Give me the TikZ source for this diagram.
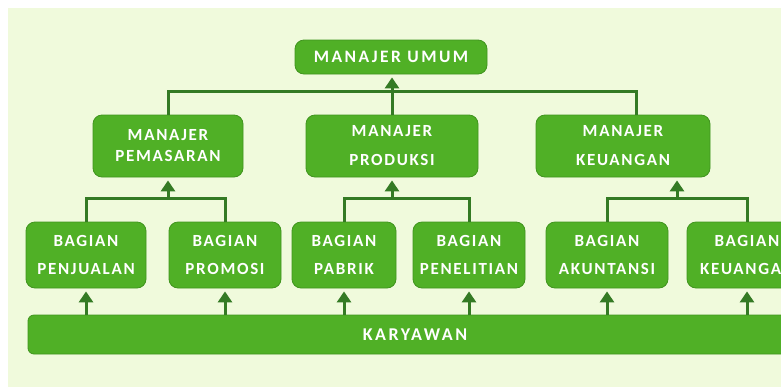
\documentclass[tikz,border=0pt]{standalone}
\usepackage{fontspec}
\usetikzlibrary{arrows.meta,calc}
\newfontfamily\boxfont{Carlito}[LetterSpace=10]
\newfontfamily\widefont{Carlito}[LetterSpace=14]
\definecolor{bgpale}{RGB}{240,250,220}
\definecolor{boxfill}{RGB}{80,176,38}
\definecolor{boxedge}{RGB}{64,148,30}
\definecolor{linegreen}{RGB}{52,122,36}
\tikzset{
  box/.style={draw=boxedge, line width=0.8pt, fill=boxfill, rounded corners=9pt,
    text=white, align=center, inner sep=0pt},
  conn/.style={draw=linegreen, line width=3pt},
  upar/.style={draw=linegreen, line width=3pt, -{Triangle[width=14pt,length=11pt]}, shorten >=3pt}
}
\begin{document}
\begin{tikzpicture}[x=1pt,y=-1pt]
\useasboundingbox (0,0) rectangle (781,389);
\clip (0,0) rectangle (781,389);
\fill[white] (0,0) rectangle (781,389);
\fill[bgpale] (8,8) rectangle (781,387);

% top
\node[box, minimum width=192pt, minimum height=34pt, font=\widefont\bfseries\fontsize{17.5}{20}\selectfont] (umum) at (391,57) {MANAJER UMUM};

% managers
\node[box, minimum width=150pt, minimum height=62pt, font=\boxfont\bfseries\fontsize{17}{21}\selectfont] (pem) at (168,146) {MANAJER\\PEMASARAN};
\node[box, minimum width=172pt, minimum height=62pt, font=\boxfont\bfseries\fontsize{17}{29}\selectfont] (prod) at (392,146) {MANAJER\\PRODUKSI};
\node[box, minimum width=174pt, minimum height=62pt, font=\boxfont\bfseries\fontsize{17}{29}\selectfont] (keu) at (623,146) {MANAJER\\KEUANGAN};

% departments
\tikzset{dept/.style={box, minimum height=66pt, font=\boxfont\bfseries\fontsize{17}{28}\selectfont}}
\node[dept, minimum width=120pt] (pj) at (86,255) {BAGIAN\\PENJUALAN};
\node[dept, minimum width=112pt] (pr) at (225,255) {BAGIAN\\PROMOSI};
\node[dept, minimum width=104pt] (pb) at (344,255) {BAGIAN\\PABRIK};
\node[dept, minimum width=112pt] (pn) at (469,255) {BAGIAN\\PENELITIAN};
\node[dept, minimum width=122pt] (ak) at (607,255) {BAGIAN\\AKUNTANSI};
\node[dept, minimum width=120pt] (kg) at (747,255) {BAGIAN\\KEUANGAN};

% employees
\node[box, rounded corners=6pt, minimum width=774pt, minimum height=39pt, font=\widefont\bfseries\fontsize{18}{20}\selectfont] (kar) at (415,334.5) {KARYAWAN};

% bus coordinates
\coordinate (b1) at (0,91);
\coordinate (b2) at (0,198);
\coordinate (k1) at (636,115);
\coordinate (k2) at (677,198);

% top level
\draw[conn] (pem.north) -- (pem.north |- b1) -- (k1 |- b1) -- (k1);
\draw[upar] (prod.north) -- (prod.north |- umum.south);

% second level
\draw[conn] (pj.north) -- (pj.north |- b2) -- (pr.north |- b2) -- (pr.north);
\draw[upar] (pem.south |- b2) -- (pem.south);
\draw[conn] (pb.north) -- (pb.north |- b2) -- (pn.north |- b2) -- (pn.north);
\draw[upar] (prod.south |- b2) -- (prod.south);
\draw[conn] (ak.north) -- (ak.north |- b2) -- (kg.north |- b2) -- (kg.north);
\draw[upar] (k2) -- (k2 |- keu.south);

% from employees
\foreach \n in {pj,pr,pb,pn,ak,kg}{
  \draw[upar] (\n.south |- kar.north) -- (\n.south);
}
\end{tikzpicture}
\end{document}
